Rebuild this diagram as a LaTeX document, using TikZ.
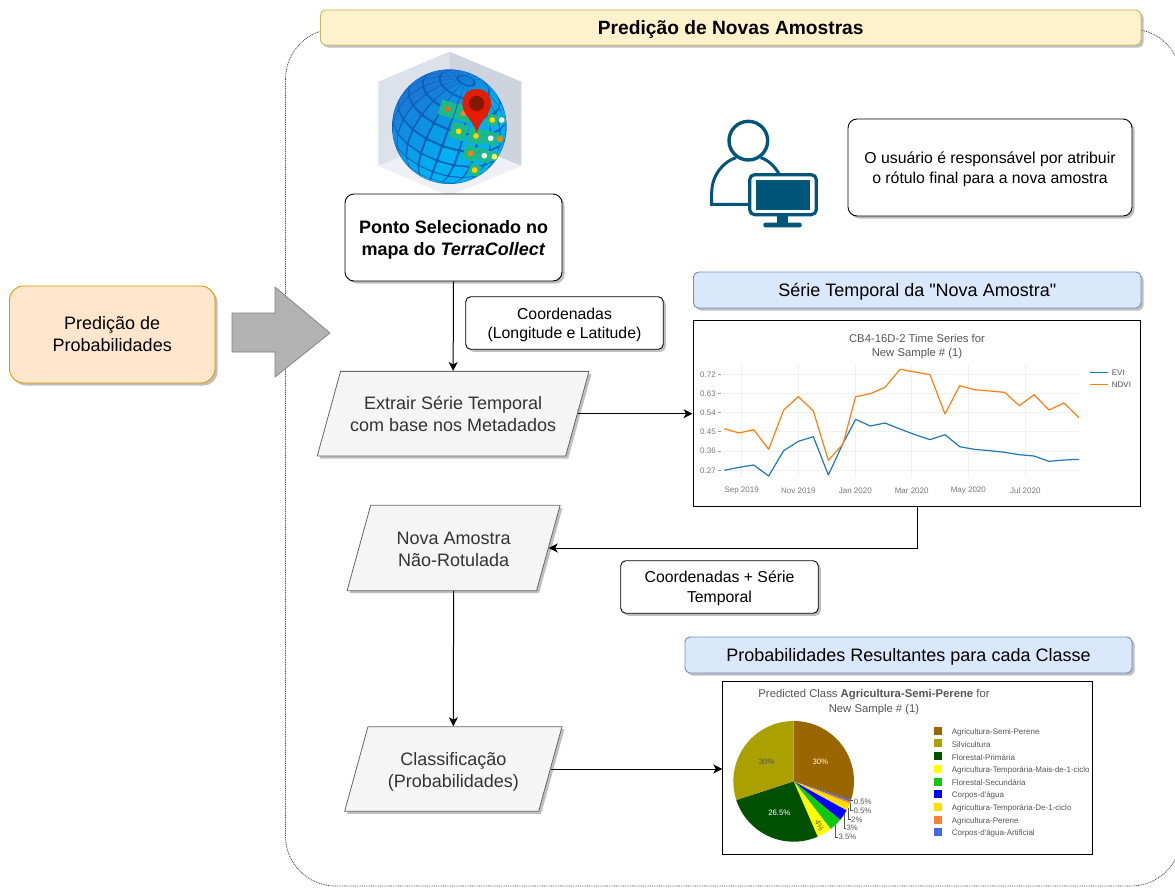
\documentclass[tikz,border=0pt]{standalone}
\usepackage{fontspec}
\setmainfont{Liberation Sans}
\newfontfamily\plainf{Liberation Sans}
\usetikzlibrary{shapes.geometric,shadows,arrows.meta}
\definecolor{usr}{HTML}{005578}
\definecolor{dbl}{HTML}{1A78D8}
\definecolor{lbl}{HTML}{00B0F0}
\definecolor{grn}{HTML}{1DB98A}
\definecolor{plot}{HTML}{555555}
\definecolor{peachf}{HTML}{FFE6CC}
\definecolor{peachd}{HTML}{D79B00}
\definecolor{creamf}{HTML}{FFF2CC}
\definecolor{creamd}{HTML}{D6B656}
\definecolor{bluef}{HTML}{DAE8FC}
\definecolor{blued}{HTML}{6C8EBF}
\definecolor{hexa}{HTML}{DDE2EA}
\definecolor{hexb}{HTML}{CDD4DE}
\definecolor{hexc}{HTML}{EEF0F5}
\definecolor{globe}{HTML}{0D62B8}
\newcommand{\lineup}[1]{\rule{0pt}{#1pt}}
\tikzset{
  shad/.style={drop shadow={shadow xshift=2.5pt,shadow yshift=-2.5pt,fill=black!45,opacity=.55}},
  tbig/.style={font=\fontsize{18}{22}\selectfont,align=center},
  tmid/.style={font=\fontsize{15.8}{19.3}\selectfont,align=center},
  blackbox/.style={draw=black,fill=white,rounded corners=#1,line width=.9pt,shad},
  blackbox/.default=5pt,
  head/.style={draw=#1,rounded corners=5pt,line width=.9pt,shad,inner sep=0pt},
  para/.style={trapezium,trapezium left angle=74.6,trapezium right angle=105.4,
     draw=black!60,fill=black!4,line width=.8pt,shad,inner sep=0pt},
  paratext/.style={tbig,text=black!80,inner sep=0pt},
  conn/.style={draw=black,line width=1pt,-{Stealth[length=9pt,width=9pt,inset=2.5pt]}},
  tick/.style={font=\fontsize{8}{9}\selectfont,text=plot!80,inner sep=0pt},
  legt/.style={font=\fontsize{8}{9}\selectfont,text=plot,anchor=west,inner sep=0pt},
  plab/.style={font=\fontsize{7.8}{9}\selectfont,inner sep=0pt},
  chart/.style={draw=black,fill=white,line width=.95pt,inner sep=0pt,drop shadow={shadow xshift=.7pt,shadow yshift=-.7pt,fill=black!40,opacity=.5}},
}
\newcommand{\tile}[2]{%
  \pgfmathsetmacro\gX{cos(#2)*sin(#1)}%
  \pgfmathsetmacro\gY{sin(#2)}%
  \pgfmathsetmacro\gZ{cos(#2)*cos(#1)}%
  \pgfmathsetmacro\gYY{\gY*cos(30)-\gZ*sin(30)}%
  \pgfmathsetmacro\gx{268+172*(\gX*cos(20)+\gYY*sin(20))}%
  \pgfmathsetmacro\gy{260-172*(-\gX*sin(20)+\gYY*cos(20))}%
}
\begin{document}
\begin{tikzpicture}[x=1pt,y=-1pt,line cap=butt]
\useasboundingbox (0,0) rectangle (1175,887);
\fill[white] (0,0) rectangle (1175,887);
% container
\begin{scope}
\clip (0,0) rectangle (1175,887);
\draw[black!75,line width=.8pt,dash pattern=on .9pt off .9pt,rounded corners=50pt] (285.5,29) rectangle (1181,886);
\end{scope}
% globe (zoom coordinates)
\begin{scope}[shift={(360,40)},scale=1/3]
  \fill[hexa] (268,35) -- (55,125) -- (55,378) -- (268,290) -- cycle;
  \fill[hexb] (268,35) -- (484,125) -- (484,378) -- (268,290) -- cycle;
  \fill[hexc] (55,378) -- (268,290) -- (484,378) -- (268,468) -- cycle;
  \fill[globe] (268,260) circle (172);
  \begin{scope}
  \clip (268,260) circle (172);
  \foreach \lon in {-180,-162,...,162}{
    \foreach \lat in {-81,-63,...,81}{
      \pgfmathsetmacro\cZ{cos(\lat+9)*cos(\lon+9)*cos(30)+sin(\lat+9)*sin(30)}
      \pgfmathparse{\cZ>0.02?1:0}
      \ifnum\pgfmathresult=1
        \pgfmathsetmacro\la{\lon+1.2}\pgfmathsetmacro\lb{\lon+16.8}
        \pgfmathsetmacro\pa{\lat+1.2}\pgfmathsetmacro\pb{min(89,\lat+16.8)}
        \tile{\la}{\pa}\edef\xa{\gx}\edef\ya{\gy}
        \tile{\lb}{\pa}\edef\xb{\gx}\edef\yb{\gy}
        \tile{\lb}{\pb}\edef\xc{\gx}\edef\yc{\gy}
        \tile{\la}{\pb}\edef\xd{\gx}\edef\yd{\gy}
        \pgfmathsetmacro\mixv{min(100,max(0,68+0.25*(\xa-268)+0.4*(\ya-260)))}
        \fill[lbl!\mixv!dbl,rounded corners=.6pt] (\xa,\ya) -- (\xb,\yb) -- (\xc,\yc) -- (\xd,\yd) -- cycle;
      \fi
    }
  }
  \foreach \x/\y/\s in {262/207/23,310/220/23,296/274/24,348/288/23,392/295/20,332/340/21,373/347/19,344/390/17,397/240/17,427/240/10,420/297/11,403/350/12}{
    \fill[grn,rounded corners=.6pt,shift={(\x,\y)},rotate=-18] (-\s,-\s) rectangle (\s,\s);
  }
  \foreach \x/\y/\c in {262/207/orange!80!red,310/220/orange!90!red!90,296/274/yellow!80!orange,348/288/yellow!70!orange,392/295/white,332/340/orange,373/347/white,344/390/yellow!70!orange,397/240/yellow!80!orange,425/240/white,420/297/orange,403/350/yellow!60}{
    \fill[\c] (\x,\y) circle (8.5);
  }
  \end{scope}
  \fill[red!75!orange!90!black] (350,278) .. controls (340,240) and (307,225) .. (307,190) .. controls (307,165) and (325,147) .. (350,147) .. controls (375,147) and (393,165) .. (393,190) .. controls (393,225) and (360,240) .. (350,278) -- cycle;
  \fill[red!40!black!80!orange] (350,190) circle (23);
\end{scope}
% user icon (zoom coordinates)
\begin{scope}[shift={(700,110)},scale=1/3]
  \draw[usr,line width=3.4pt] (145,92) circle (58);
  \draw[usr,line width=3pt] (145,283) -- (35,283) -- (35,250) .. controls (35,195) and (70,155) .. (108,143);
  \draw[usr,line width=3pt] (182,143) .. controls (205,150) and (225,170) .. (236,190);
  \fill[white] (143,188) rectangle (355,320);
  \draw[usr,line width=3.2pt,rounded corners=5pt] (149,194) rectangle (349,314);
  \fill[usr] (167,210) rectangle (330,300);
  \fill[usr] (230,318) rectangle (265,340);
  \fill[usr,rounded corners=2pt] (190,338) rectangle (305,352);
\end{scope}
% left side
\node[draw=peachd,fill=peachf,rounded corners=14pt,line width=.9pt,shad,minimum width=205.5pt,minimum height=97pt,inner sep=0pt,tbig] (pred) at (112.25,334.5) {Predição de\\Probabilidades};
\fill[black!30] (232,313) -- (275,313) -- (275,287) -- (330,333) -- (275,377) -- (275,352) -- (232,352) -- cycle;
\draw[black!50,line width=.7pt] (232,313) -- (275,313) -- (275,287) -- (330,333) -- (275,377) -- (275,352) -- (232,352) -- cycle;
% heads
\node[head=creamd,fill=creamf,minimum width=820.5pt,minimum height=35pt,font=\fontsize{19.2}{22}\bfseries\selectfont] (title) at (730.75,27.5) {\lineup{18}Predição de Novas Amostras};
\node[head=blued,fill=bluef,minimum width=447.5pt,minimum height=36pt,tbig] (serie) at (917.25,290) {\lineup{17}Série Temporal da {\plainf"}Nova Amostra{\plainf"}};
\node[head=blued,fill=bluef,minimum width=447pt,minimum height=36pt,tbig] (probs) at (908.5,655) {\lineup{17}Probabilidades Resultantes para cada Classe};
% boxes
\node[blackbox=9pt,minimum width=217pt,minimum height=87pt,inner sep=0pt,tbig] (ponto) at (453.5,237.5) {\lineup{18}\textbf{Ponto Selecionado no}\\\textbf{mapa do \textit{TerraCollect}}};
\node[blackbox=9pt,minimum width=284pt,minimum height=97pt,inner sep=0pt,tmid,font=\fontsize{15.8}{20}\selectfont] (user) at (990,167.5) {\lineup{15.5}O usuário é responsável por atribuir\\o rótulo final para a nova amostra};
\node[blackbox,minimum width=197.5pt,minimum height=52.5pt,inner sep=0pt,tmid] (coord) at (564.5,323) {\lineup{15.5}Coordenadas\\(Longitude e Latitude)};
\node[blackbox,minimum width=197.5pt,minimum height=52.5pt,inner sep=0pt,tmid] (cs) at (719.5,587) {\lineup{14.5}Coordenadas + Série\\Temporal};
% parallelograms
\node[para,text height=42.35pt,text depth=42.35pt,text width=225.1pt] (extr) at (453.1,413.7) {};
\node[paratext] (extrt) at (453.1,414.2) {Extrair Série Temporal\\com base nos Metadados};
\node[para,text height=42.7pt,text depth=42.7pt,text width=165.9pt] (nova) at (453.6,548) {};
\node[paratext] (novat) at (453.6,549) {Nova Amostra\\Não-Rotulada};
\node[para,text height=42.3pt,text depth=42.3pt,text width=170.7pt] (clas) at (453.3,769) {};
\node[paratext] (clast) at (453.3,772) {Classificação\\(Probabilidades)};
% chart boxes
\node[chart,minimum width=447pt,minimum height=186pt] (tschart) at (916.5,413) {};
\node[chart,minimum width=369.5pt,minimum height=172.5pt] (piechart) at (907.5,768) {};
% time series
\begin{scope}[shift={(690,315)},scale=1/3]
  \foreach \y in {178,235,293,350,408,466}{\draw[black!6,line width=.5pt] (103,\y) -- (1167,\y);}
  \foreach \x in {155,325,496,665,835,1006}{\draw[black!6,line width=.5pt] (\x,145) -- (\x,490);}
  \node[font=\fontsize{11.3}{14}\selectfont,text=plot,align=center,inner sep=0pt] (tstitle) at (681,96) {CB4-16D-2 Time Series for\\New Sample \# (1)};
  \foreach \y/\t in {178/0.72,235/0.63,293/0.54,350/0.45,408/0.36,466/0.27}{
    \node[tick,anchor=east] (yt\t) at (78,\y) {\t};
    \draw[plot!60,line width=.5pt] (84,\y) -- (93,\y);
  }
  \foreach \x/\t [count=\i] in {155/Sep 2019,325/Nov 2019,496/Jan 2020,665/Mar 2020,835/May 2020,1006/Jul 2020}{
    \node[tick] (xt\i) at (\x,528) {\t};
  }
  \draw[color={rgb,255:red,31;green,119;blue,180},line width=1.2pt,line join=round] (103,466) -- (147,457) -- (191,450) -- (236,483) -- (281,407) -- (325,379) -- (370,365) -- (415,480) -- (459,385) -- (497,313) -- (541,333) -- (585,324) -- (630,342) -- (675,359) -- (720,374) -- (765,359) -- (809,395) -- (853,403) -- (899,407) -- (944,412) -- (988,419) -- (1032,423) -- (1077,439) -- (1122,435) -- (1167,433);
  \draw[color={rgb,255:red,255;green,127;blue,14},line width=1.2pt,line join=round] (103,341) -- (147,354) -- (191,344) -- (236,403) -- (281,285) -- (325,245) -- (370,288) -- (415,436) -- (459,387) -- (497,245) -- (541,236) -- (585,217) -- (630,163) -- (675,171) -- (720,179) -- (765,297) -- (809,212) -- (853,224) -- (899,228) -- (944,232) -- (988,272) -- (1032,239) -- (1077,285) -- (1122,264) -- (1167,308);
  \draw[color={rgb,255:red,31;green,119;blue,180},line width=1.1pt] (1199,173) -- (1254,173);
  \draw[color={rgb,255:red,255;green,127;blue,14},line width=1.1pt] (1199,208) -- (1254,208);
  \node[legt] (lgevi) at (1265,173) {EVI};
  \node[legt] (lgndvi) at (1265,208) {NDVI};
\end{scope}
% pie chart
\begin{scope}[shift={(720,680)},scale=1/3]
  \node[font=\fontsize{11.3}{14.5}\selectfont,text=plot,align=center,inner sep=0pt] (pietitle) at (462,66) {Predicted Class \textbf{Agricultura-Semi-Perene} for\\New Sample \# (1)};
  \foreach \pct/\c [remember=\endang as \startang (initially 90)] in {30/{rgb,255:red,153;green,102;blue,0},0.5/{rgb,255:red,65;green,105;blue,225},0.5/{rgb,255:red,255;green,127;blue,50},2/{rgb,255:red,255;green,221;blue,0},3/{rgb,255:red,0;green,0;blue,255},3.5/{rgb,255:red,16;green,200;blue,16},4/{rgb,255:red,255;green,255;blue,0},26.5/{rgb,255:red,0;green,80;blue,0},30/{rgb,255:red,170;green,160;blue,0}}{
    \pgfmathsetmacro\endang{\startang-3.6*\pct}
    \global\let\endang\endang
    \fill[color=\c] (221,304) -- plot[domain=\startang:\endang,samples=40] ({221+181*cos(\x)},{304-181*sin(\x)}) -- cycle;
  }
  \node[plab,text=white!85!yellow] (p1) at (301,245) {30\%};
  \node[plab,text=plot] (p2) at (140,245) {30\%};
  \node[plab,text=white] (p3) at (178,398) {26.5\%};
  \node[plab,text=plot,rotate=-65] (p4) at (298,437) {4\%};
  \node[plab,text=plot,anchor=west] (p5) at (401,364) {0.5\%};
  \node[plab,text=plot,anchor=west] (p6) at (400,391) {0.5\%};
  \node[plab,text=plot,anchor=west] (p7) at (393,418) {2\%};
  \node[plab,text=plot,anchor=west] (p8) at (379,444) {3\%};
  \node[plab,text=plot,anchor=west] (p9) at (355,471) {3.5\%};
  \draw[plot,line width=.55pt] (391,362) -- (398,362);
  \draw[plot,line width=.55pt] (391,370) -- (391,391) -- (399,391);
  \draw[plot,line width=.55pt] (385,384) -- (385,418) -- (392,418);
  \draw[plot,line width=.55pt] (374,399) -- (374,444) -- (378,444);
  \draw[plot,line width=.55pt] (347,435) -- (347,471) -- (353,471);
  \foreach \y/\t/\c [count=\i] in {152/Agricultura-Semi-Perene/{rgb,255:red,153;green,102;blue,0},190/Silvicultura/{rgb,255:red,170;green,160;blue,0},228/Florestal-Primária/{rgb,255:red,0;green,80;blue,0},267/Agricultura-Temporária-Mais-de-1-ciclo/{rgb,255:red,255;green,255;blue,0},305/Florestal-Secundária/{rgb,255:red,16;green,200;blue,16},343/Corpos-d{\plainf'}água/{rgb,255:red,0;green,0;blue,255},381/Agricultura-Temporária-De-1-ciclo/{rgb,255:red,255;green,221;blue,0},419/Agricultura-Perene/{rgb,255:red,255;green,127;blue,50},457/Corpos-d{\plainf'}água-Artificial/{rgb,255:red,65;green,105;blue,225}}{
    \fill[color=\c] (643,\y-12) rectangle (667,\y+12);
    \node[legt] (pl\i) at (695,\y+4) {\t};
  }
\end{scope}
% connectors
\coordinate (tsout) at (917,506);
\draw[conn] (ponto.south) -- (extr.north);
\draw[conn] (extr.0) -- (extr.0 -| tschart.west);
\draw[conn] (tsout) |- (nova.0);
\draw[conn] (nova.south) -- (clas.north);
\draw[conn] (clas.0) -- (piechart.west |- clas.0);
\end{tikzpicture}
\end{document}
